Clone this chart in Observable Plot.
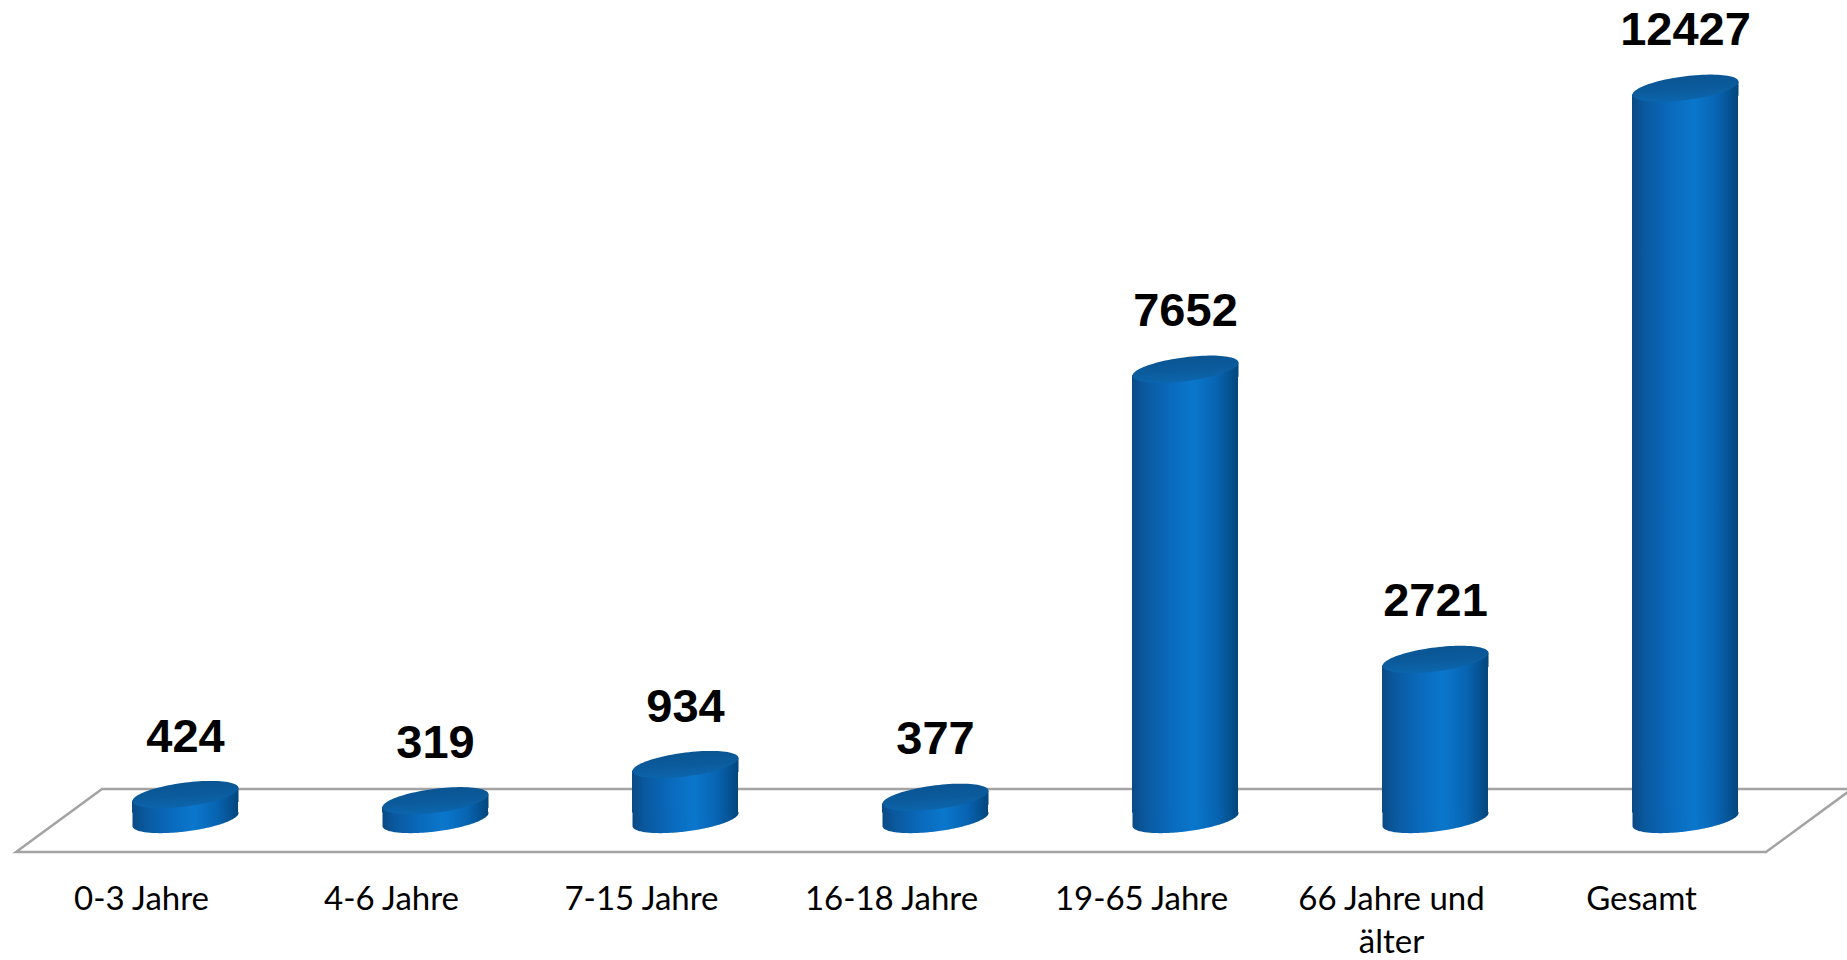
<!DOCTYPE html>
<html>
<head>
<meta charset="utf-8">
<script src="https://cdn.jsdelivr.net/npm/d3@7"></script>
<script src="https://cdn.jsdelivr.net/npm/@observablehq/plot@0.6"></script>
<style>
  html, body { margin: 0; padding: 0; background: #ffffff; overflow: hidden; }
  #chart svg { display: block; }
</style>
</head>
<body>
<div id="chart"></div>
<script>
// ---- data ----
const categories = ["0-3 Jahre", "4-6 Jahre", "7-15 Jahre", "16-18 Jahre", "19-65 Jahre", "66 Jahre und\nälter", "Gesamt"];
const values = [424, 319, 934, 377, 7652, 2721, 12427];
const data = categories.map((c, i) => ({category: c, value: values[i]}));

// ---- style constants ----
const NS = "http://www.w3.org/2000/svg";
const R = 53;          // cylinder radius (px)
const RY = 12 / 53;    // ellipse vertical ratio
const SH = 6.5 / 53;   // ellipse shear ratio
const S = 6.5;         // shear offset in px

function ellipsePoint(Rr, t) {
  return [Rr * Math.cos(t), Rr * RY * Math.sin(t) - Rr * SH * Math.cos(t)];
}
function makeSymbol(kind) {
  return {
    draw(ctx, size) {
      const Rr = Math.sqrt(size / Math.PI);
      const s = Rr * SH;
      const N = 96;
      if (kind === "cap") {
        for (let i = 0; i <= N; ++i) {
          const [px, py] = ellipsePoint(Rr, (2 * Math.PI * i) / N);
          i === 0 ? ctx.moveTo(px, py) : ctx.lineTo(px, py);
        }
        ctx.closePath();
      } else if (kind === "bottom") {
        ctx.moveTo(-Rr, -s - 1);
        ctx.lineTo(-Rr, s);
        for (let i = 0; i <= N; ++i) {
          const t = Math.PI - (Math.PI * i) / N;
          const [px, py] = ellipsePoint(Rr, t);
          ctx.lineTo(px, py);
        }
        ctx.lineTo(Rr, -s - 1);
        ctx.closePath();
      } else if (kind === "collar") {
        ctx.moveTo(-Rr, s);
        ctx.lineTo(Rr, -s);
        ctx.lineTo(Rr, s + 1);
        ctx.lineTo(-Rr, s + 1);
        ctx.closePath();
      }
    }
  };
}

function el(name, attrs) {
  const e = document.createElementNS(NS, name);
  for (const k in attrs) e.setAttribute(k, attrs[k]);
  return e;
}

// gradient definitions
function defsMark() {
  const g = el("g", {});
  const defs = el("defs", {});
  const body = el("linearGradient", {id: "bodyGrad", x1: "0", y1: "0", x2: "1", y2: "0"});
  [["0%", "#0a4a85"], ["12%", "#0a599f"], ["35%", "#0a69bb"], ["58%", "#0a77cc"], ["80%", "#0864b2"], ["100%", "#03467c"]]
    .forEach(([o, c]) => body.appendChild(el("stop", {offset: o, "stop-color": c})));
  const cap = el("linearGradient", {id: "capGrad", x1: "0", y1: "0", x2: "0.25", y2: "1"});
  [["0%", "#0a5290"], ["60%", "#0b5b9c"], ["100%", "#0c65ac"]]
    .forEach(([o, c]) => cap.appendChild(el("stop", {offset: o, "stop-color": c})));
  defs.appendChild(body);
  defs.appendChild(cap);
  g.appendChild(defs);
  return g;
}

// perspective floor drawn through the scales
function floorMark(index, scales) {
  const {x, y} = scales;
  const bw = x.bandwidth ? x.bandwidth() : 2 * R;
  const c0 = x(categories[0]) + bw / 2;
  const c6 = x(categories[categories.length - 1]) + bw / 2;
  const y0 = y(0);
  const back = y0 - 30, front = y0 + 33;
  const pts = [[c0 - 169, front], [c0 - 83, back], [c6 + 167, back], [c6 + 81, front]];
  const g = el("g", {});
  g.appendChild(el("polygon", {
    points: pts.map(p => p.join(",")).join(" "),
    fill: "none", stroke: "#a3a3a3", "stroke-width": 2.5, "stroke-linejoin": "miter"
  }));
  return g;
}

const plot = Plot.plot({
  width: 1847,
  height: 960,
  marginTop: 54,
  marginBottom: 141,
  marginLeft: 0,
  marginRight: 0,
  style: {background: "#ffffff", fontFamily: "Lato, sans-serif", overflow: "hidden"},
  x: {domain: categories, range: [57.75, 1811.25], paddingInner: 0.577, paddingOuter: 0.2885, label: null},
  y: {domain: [0, 13000], axis: null},
  marks: [
    defsMark,
    floorMark,
    Plot.dot(data, {x: "category", y: () => 0, r: R, symbol: makeSymbol("bottom"), fill: "url(#bodyGrad)", stroke: "none"}),
    Plot.barY(data, {x: "category", y: "value", fill: "url(#bodyGrad)", insetTop: S, insetBottom: S}),
    Plot.dot(data, {x: "category", y: "value", r: R, symbol: makeSymbol("collar"), fill: "url(#bodyGrad)", stroke: "none"}),
    Plot.dot(data, {x: "category", y: "value", r: R, symbol: makeSymbol("cap"), fill: "url(#capGrad)", stroke: "none"}),
    Plot.text(data, {
      x: "category", y: "value", text: d => String(d.value), dy: -58,
      fontSize: 47, fontWeight: "bold", fontFamily: "Liberation Sans, Arial, sans-serif", fill: "#000000"
    }),
    Plot.axisX({
      anchor: "bottom", tickSize: 0, tickPadding: 60, dx: -44, fontSize: 33,
      lineHeight: 1.3, lineAnchor: "top", fill: "#000000", label: null, textOverflow: null
    })
  ]
});

document.getElementById("chart").appendChild(plot);
</script>
</body>
</html>
